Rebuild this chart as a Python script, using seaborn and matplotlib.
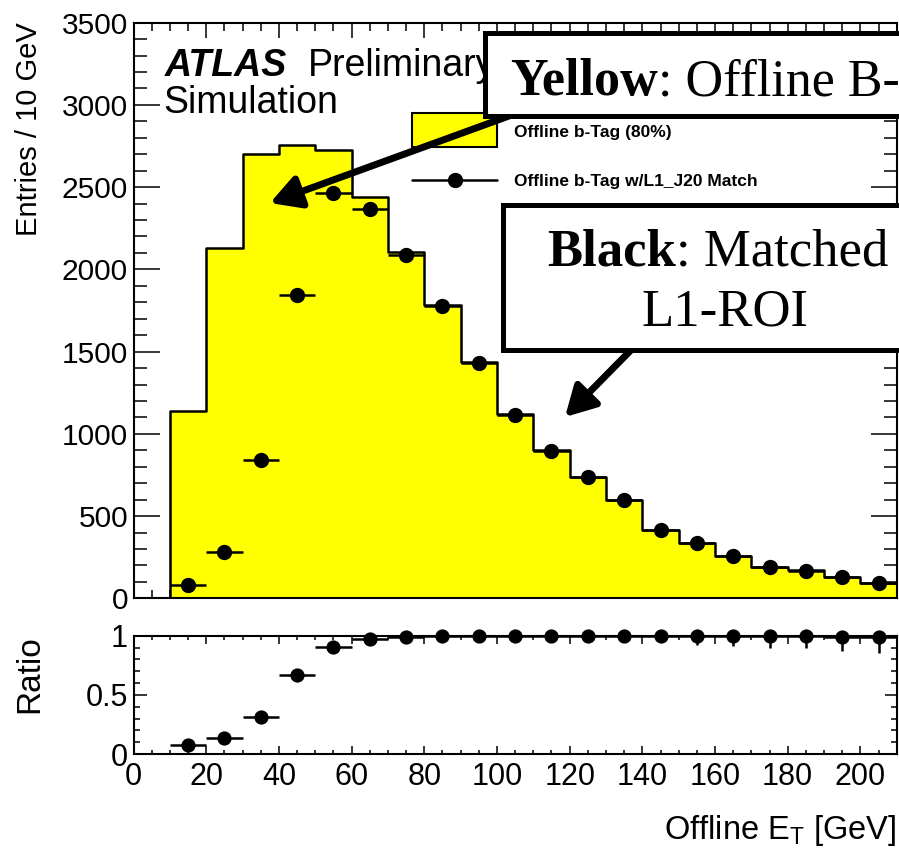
import numpy as np
import pandas as pd
import matplotlib
matplotlib.use("Agg")
import matplotlib.pyplot as plt
import seaborn as sns
from matplotlib.patches import Rectangle, FancyArrowPatch, ArrowStyle
from matplotlib.lines import Line2D
from matplotlib.ticker import MultipleLocator, FuncFormatter

# ---- data -------------------------------------------------------------
bin_edges = list(range(10, 220, 10))          # 10 ... 210 GeV
bin_centers = [e + 5 for e in bin_edges[:-1]]

# offline b-tagged jets (80% working point), entries per 10 GeV
offline_btag = [1140, 2130, 2702, 2757, 2727, 2440, 2105, 1783, 1436, 1118,
                901, 738, 600, 418, 337, 260, 191, 170, 130, 95]
# offline b-tagged jets matched to an L1_J20 RoI
matched_l1 = [83, 282, 840, 1844, 2465, 2367, 2088, 1777, 1432, 1115,
              898, 736, 598, 416, 335, 259, 190, 169, 129, 94]
# uncertainty on the matched / offline ratio
ratio_err = [0.01, 0.01, 0.01, 0.01, 0.01, 0.01, 0.01, 0.01, 0.02, 0.02,
             0.02, 0.03, 0.04, 0.05, 0.075, 0.08, 0.10, 0.10, 0.12, 0.135]

legend_labels = ["Offline b-Tag (80%)", "Offline b-Tag w/L1_J20 Match"]
x_label = "Offline E$_{\\mathregular{T}}$ [GeV]"
y_label_top = "Entries / 10 GeV"
y_label_ratio = "Ratio"

ratio = np.array(matched_l1) / np.array(offline_btag)

# ---- style ------------------------------------------------------------
sns.set_theme(style="ticks")
plt.rcParams["font.family"] = ["Liberation Sans", "DejaVu Sans"]
for key in ["text.color", "axes.labelcolor", "axes.edgecolor",
            "xtick.color", "ytick.color"]:
    plt.rcParams[key] = "black"
plt.rcParams["axes.linewidth"] = 1.5
for key in ["xtick.major.width", "ytick.major.width",
            "xtick.minor.width", "ytick.minor.width"]:
    plt.rcParams[key] = 1.1

W, H = 899, 852
fig = plt.figure(figsize=(W / 100, H / 100), dpi=100)
fig.patch.set_facecolor("white")


def fx(x):
    return x / W


def fy(y):
    return 1 - y / H


left, right = 133.6, 896.7
ax1 = fig.add_axes([fx(left), fy(598.3), (right - left) / W, (598.3 - 22.7) / H])
ax2 = fig.add_axes([fx(left), fy(754), (right - left) / W, (754 - 635.7) / H])

# ---- main panel -------------------------------------------------------
df = pd.DataFrame({"et": bin_centers, "entries": offline_btag,
                   "matched": matched_l1})
sns.histplot(data=df, x="et", weights="entries", bins=bin_edges,
             element="step", fill=True, color="#ffff00", alpha=1,
             edgecolor="black", linewidth=1.8, ax=ax1, zorder=1)
ax1.errorbar(bin_centers, matched_l1, xerr=5, fmt="none", ecolor="black",
             elinewidth=1.8, capsize=0, zorder=3)
ax1.plot(bin_centers, matched_l1, "o", color="black", ms=10, zorder=4)

ax1.set_xlim(0, 210)
ax1.set_ylim(0, 3500)
ax1.xaxis.set_major_locator(MultipleLocator(20))
ax1.xaxis.set_minor_locator(MultipleLocator(5))
ax1.yaxis.set_major_locator(MultipleLocator(500))
ax1.yaxis.set_minor_locator(MultipleLocator(100))
ax1.yaxis.set_major_formatter(FuncFormatter(lambda v, p: f"{v:g}"))
ax1.tick_params(which="both", direction="in", top=True, right=True,
                labelbottom=False, labelsize=21.5, pad=4)
ax1.tick_params(axis="x", which="major", length=11)
ax1.tick_params(axis="x", which="minor", length=5.5)
ax1.tick_params(axis="y", which="major", length=19)
ax1.tick_params(axis="y", which="minor", length=9.5)
ax1.set_xlabel("")
ax1.set_ylabel(y_label_top, fontsize=21, loc="top")
ax1.yaxis.set_label_coords(-0.119, 1.0)

ax1.text(fx(165), fy(76), "ATLAS", transform=fig.transFigure,
         fontsize=27, fontweight="bold", fontstyle="italic", va="baseline")
ax1.text(fx(308), fy(76), "Preliminary", transform=fig.transFigure,
         fontsize=27, va="baseline")
ax1.text(fx(163), fy(113), "Simulation", transform=fig.transFigure,
         fontsize=27, va="baseline")

# legend: filled box for the offline histogram, marker + bar for matched jets
ax1.add_artist(Rectangle((fx(412), fy(147)), (497 - 412) / W, (147 - 113) / H,
                         transform=fig.transFigure, facecolor="#ffff00",
                         edgecolor="black", lw=1.5, clip_on=False, zorder=5))
ax1.add_artist(Line2D([fx(412), fx(497)], [fy(179.5), fy(179.5)],
                      transform=fig.transFigure, color="black", lw=1.8,
                      clip_on=False, zorder=5))
ax1.add_artist(Line2D([fx(454.5)], [fy(179.5)], transform=fig.transFigure,
                      color="black", marker="o", ms=10, lw=0,
                      clip_on=False, zorder=5))
legend_font = {"family": "Liberation Sans", "weight": "bold", "size": 12.5}
for label, base in zip(legend_labels, [136.5, 186]):
    ax1.text(fx(514), fy(base), label, transform=fig.transFigure,
             va="baseline", fontdict=legend_font, zorder=5)

# ---- ratio panel ------------------------------------------------------
ax2.errorbar(bin_centers, ratio, xerr=5, yerr=ratio_err, fmt="none",
             ecolor="black", elinewidth=1.8, capsize=0, zorder=3)
sns.scatterplot(x=bin_centers, y=ratio, color="black", s=105,
                edgecolor="black", linewidth=0, ax=ax2, zorder=4,
                clip_on=False)
ax2.set_xlim(0, 210)
ax2.set_ylim(0, 1)
ax2.xaxis.set_major_locator(MultipleLocator(20))
ax2.xaxis.set_minor_locator(MultipleLocator(5))
ax2.yaxis.set_major_locator(MultipleLocator(0.5))
ax2.yaxis.set_minor_locator(MultipleLocator(0.1))
ax2.yaxis.set_major_formatter(FuncFormatter(lambda v, p: f"{v:g}"))
ax2.tick_params(which="both", direction="in", top=True, right=True,
                labelsize=22, pad=4)
ax2.tick_params(axis="x", which="major", length=5.5, pad=6)
ax2.tick_params(axis="x", which="minor", length=3)
ax2.tick_params(axis="y", which="major", length=9)
ax2.tick_params(axis="y", which="minor", length=4.5)
ax2.set_xlabel(x_label, fontsize=23.5, loc="right")
ax2.xaxis.set_label_coords(1.0, -0.5)
ax2.set_ylabel(y_label_ratio, fontsize=24, loc="top")
ax2.yaxis.set_label_coords(-0.116, 1.0)

# ---- callout boxes and arrows ----------------------------------------
head = ArrowStyle("-|>", head_length=18, head_width=10)
for (xa, ya), (xb, yb) in [((520, 112), (270, 203)),
                           ((636, 345), (565, 417))]:
    fig.add_artist(FancyArrowPatch((fx(xa), fy(ya)), (fx(xb), fy(yb)),
                                   transform=fig.transFigure,
                                   arrowstyle=head, mutation_scale=1,
                                   lw=5, color="black", shrinkA=0, shrinkB=0,
                                   zorder=5))

for x0, y0, y1 in [(484.5, 33.5, 116), (503, 204.5, 350)]:
    fig.add_artist(Rectangle((fx(x0), fy(y1)), (1000 - x0) / W, (y1 - y0) / H,
                             transform=fig.transFigure, facecolor="white",
                             edgecolor="black", lw=3.6, zorder=6))

serif = "Liberation Serif"
fig.canvas.draw()
renderer = fig.canvas.get_renderer()


def two_part(x, y, bold, rest, size=38):
    t = fig.text(fx(x), fy(y), bold, family=serif, weight="bold", size=size,
                 va="baseline", zorder=7)
    x1 = t.get_window_extent(renderer).x1
    fig.text(x1 / W, fy(y), rest, family=serif, size=size, va="baseline",
             zorder=7)


two_part(510, 95, "Yellow", ": Offline B-", size=37.5)
two_part(547, 265, "Black", ": Matched")
fig.text(fx(725), fy(325), "L1-ROI", family=serif, size=38, va="baseline",
         ha="center", zorder=7)

fig.savefig("out.png", dpi=100, facecolor="white")
